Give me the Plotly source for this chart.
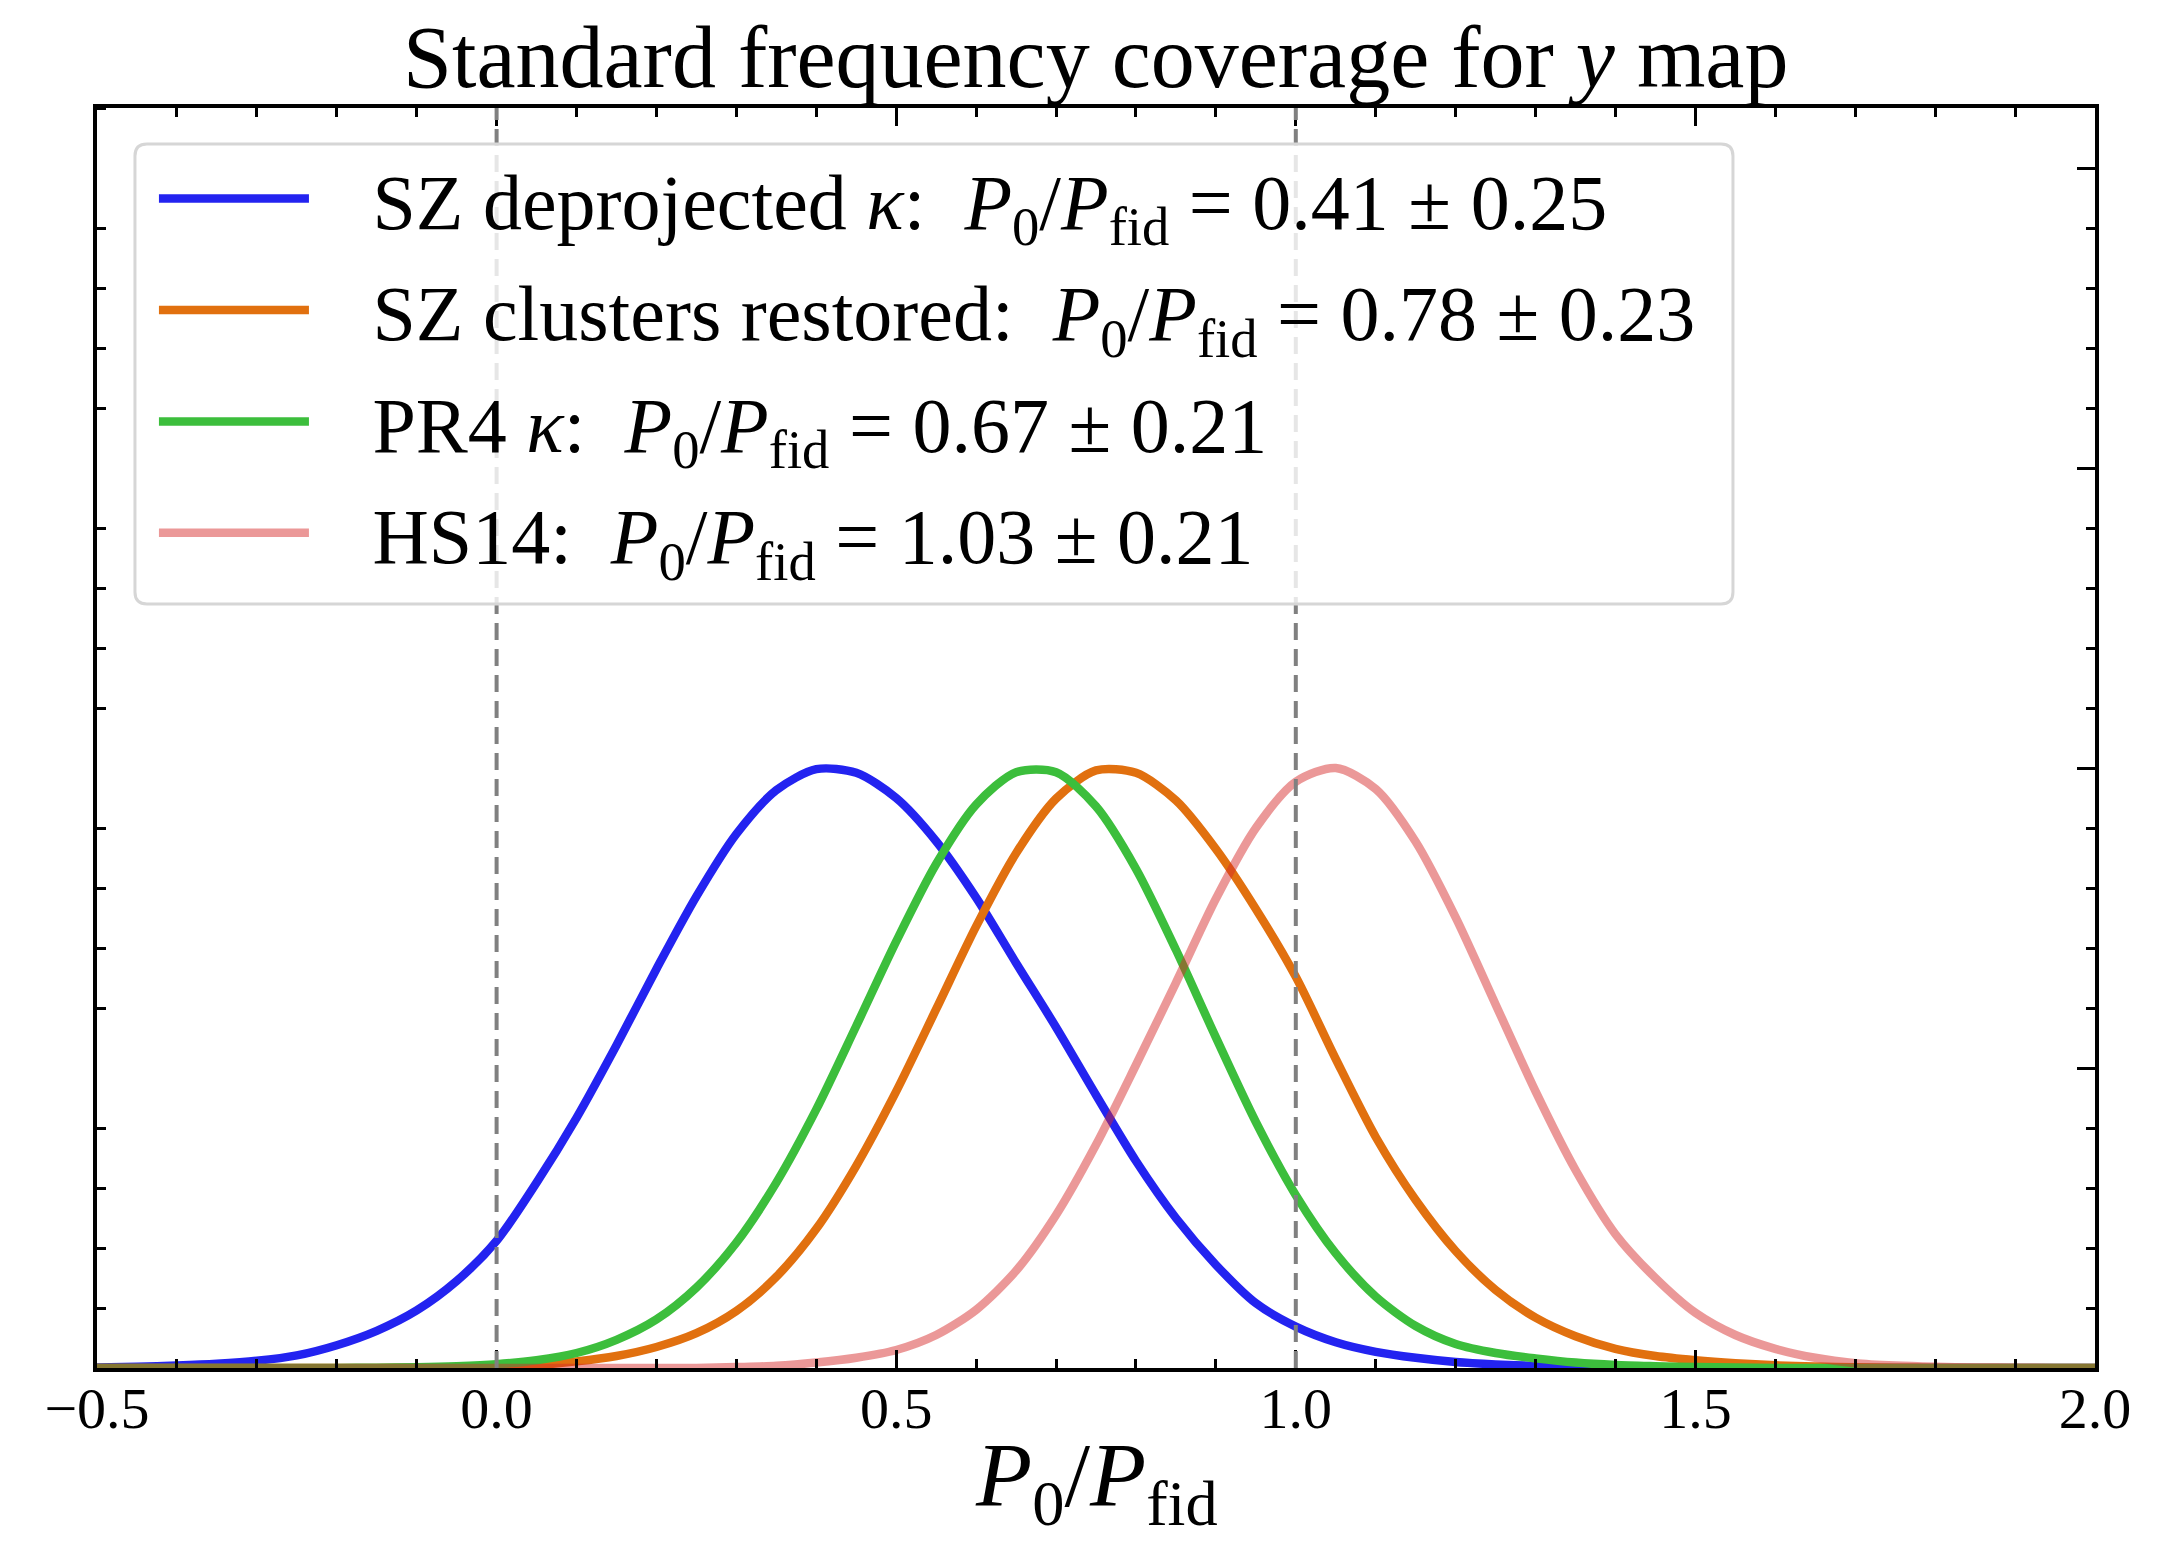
import plotly.graph_objects as go

# ---------------- data ----------------
x_vals = [-0.5, -0.45, -0.4, -0.35, -0.3, -0.25, -0.2, -0.15, -0.1, -0.05,
          0.0, 0.05, 0.1, 0.15, 0.2, 0.25, 0.3, 0.35, 0.4, 0.45,
          0.5, 0.55, 0.6, 0.65, 0.7, 0.75, 0.8, 0.85, 0.9, 0.95,
          1.0, 1.05, 1.1, 1.15, 1.2, 1.25, 1.3, 1.35, 1.4, 1.45,
          1.5, 1.55, 1.6, 1.65, 1.7, 1.75, 1.8, 1.85, 1.9, 1.95, 2.0]

sz_deproj = [0.001, 0.002, 0.004, 0.007, 0.012, 0.021, 0.038, 0.062, 0.096, 0.145,
             0.212, 0.309, 0.417, 0.538, 0.665, 0.786, 0.89, 0.963, 0.998, 0.992,
             0.95, 0.878, 0.784, 0.675, 0.568, 0.455, 0.345, 0.250, 0.172, 0.108,
             0.069, 0.043, 0.027, 0.017, 0.010, 0.006, 0.0035, 0.002, 0.001, 0.0005,
             0.0, 0.0, 0.0, 0.0, 0.0, 0.0, 0.0, 0.0, 0.0, 0.0, 0.0]

sz_restored = [0.0, 0.0, 0.0, 0.0, 0.0, 0.0, 0.0, 0.0, 0.0005, 0.001,
               0.002, 0.005, 0.011, 0.02, 0.035, 0.058, 0.095, 0.152, 0.232, 0.337,
               0.461, 0.598, 0.736, 0.858, 0.949, 0.996, 0.992, 0.946, 0.865, 0.765,
               0.652, 0.515, 0.385, 0.280, 0.195, 0.13, 0.084, 0.053, 0.032, 0.02,
               0.013, 0.008, 0.0045, 0.0025, 0.0013, 0.0006, 0.0, 0.0, 0.0, 0.0, 0.0]

pr4 = [0.0, 0.0, 0.0, 0.0, 0.0, 0.0, 0.0002, 0.0006, 0.0013, 0.003,
       0.0063, 0.013, 0.025, 0.047, 0.081, 0.134, 0.209, 0.309, 0.431, 0.57,
       0.711, 0.84, 0.939, 0.993, 0.993, 0.936, 0.832, 0.697, 0.551, 0.41,
       0.288, 0.191, 0.119, 0.07, 0.04, 0.025, 0.016, 0.009, 0.005, 0.003,
       0.0015, 0.0007, 0.0, 0.0, 0.0, 0.0, 0.0, 0.0, 0.0, 0.0, 0.0]

hs14 = [0.0, 0.0, 0.0, 0.0, 0.0, 0.0, 0.0, 0.0, 0.0, 0.0,
        0.0, 0.0, 0.0, 0.0, 0.0, 0.0, 0.0015, 0.0036, 0.009, 0.017,
        0.030, 0.055, 0.097, 0.162, 0.255, 0.372, 0.505, 0.642, 0.782, 0.90,
        0.977, 1.0, 0.965, 0.877, 0.751, 0.606, 0.461, 0.33, 0.223, 0.15,
        0.092, 0.055, 0.032, 0.017, 0.008, 0.004, 0.002, 0.001, 0.0005, 0.0, 0.0]

ref_lines = [0.0, 1.0]

NB = "\u00a0"
PF = "<i>P</i><sub>0</sub>/<i>P</i><sub>fid</sub>"
series_names = [
    NB * 3 + "SZ deprojected <i>κ</i>:" + NB * 2 + PF + " = 0.41 ± 0.25",
    NB * 3 + "SZ clusters restored:" + NB * 2 + PF + " = 0.78 ± 0.23",
    NB * 3 + "PR4 <i>κ</i>:" + NB * 2 + PF + " = 0.67 ± 0.21",
    NB * 3 + "HS14:" + NB * 2 + PF + " = 1.03 ± 0.21",
]
series_values = [sz_deproj, sz_restored, pr4, hs14]
series_colors = ["#2323F0", "#E1700F", "#3CBE3C", "rgba(214,39,40,0.48)"]
series_axes = ["y", "y", "y", "y2"]

FONT = "Liberation Serif"

fig = go.Figure()
for i, (name, vals, col, ax) in enumerate(zip(series_names, series_values, series_colors, series_axes)):
    fig.add_trace(go.Scatter(
        x=x_vals, y=vals, mode="lines", name=name, yaxis=ax,
        line=dict(color=col, width=8.5, shape="spline", smoothing=0.8),
        legendgroup="g%d" % i,
    ))

for xv in ref_lines:
    fig.add_vline(x=xv, line=dict(color="#808080", width=4, dash="17px,9px"))

# rounded legend frame (matplotlib style), in paper coordinates
x0, x1, y0, y1 = 0.019, 0.8188, 0.6063, 0.9714
rx, ry = 0.006, 0.0095
path = (f"M{x0+rx},{y1} L{x1-rx},{y1} Q{x1},{y1} {x1},{y1-ry} "
        f"L{x1},{y0+ry} Q{x1},{y0} {x1-rx},{y0} L{x0+rx},{y0} "
        f"Q{x0},{y0} {x0},{y0+ry} L{x0},{y1-ry} Q{x0},{y1} {x0+rx},{y1} Z")
fig.add_shape(type="path", path=path, xref="paper", yref="paper",
              fillcolor="rgba(255,255,255,0.8)", line=dict(color="#d6d6d6", width=3),
              layer="above")

# x-axis title as an annotation below the axis
fig.add_annotation(text=PF, xref="paper", yref="paper", x=0.5, y=0,
                   xanchor="center", yanchor="middle", yshift=-113, showarrow=False,
                   font=dict(family=FONT, size=92, color="black"))

tick_minor = dict(dtick=0.1, ticks="inside", ticklen=9, tickwidth=3, tickcolor="black", showgrid=False)

fig.update_layout(
    width=2178, height=1542,
    margin=dict(l=97, r=83, t=108, b=174),
    plot_bgcolor="white", paper_bgcolor="white",
    font=dict(family=FONT, color="black"),
    title=dict(text="Standard frequency coverage for <i>y</i> map",
               font=dict(family=FONT, size=88, color="black"),
               x=0.5031, xanchor="center", xref="container", y=0.9635, yanchor="middle", yref="container"),
    showlegend=True,
    legend=dict(x=0.0285, y=0.9735, xanchor="left", yanchor="top",
                bgcolor="rgba(0,0,0,0)", borderwidth=0,
                font=dict(family=FONT, size=78, color="black"),
                itemwidth=150, tracegroupgap=7, traceorder="grouped"),
    xaxis=dict(range=[-0.5, 2.0], tick0=0, dtick=0.5, tickformat=".1f",
               ticks="inside", ticklen=18, tickwidth=3, tickcolor="black",
               minor=tick_minor, mirror="ticks", showline=True, linewidth=4, linecolor="black",
               showgrid=False, zeroline=False, automargin=False, ticklabelstandoff=-14,
               tickfont=dict(family=FONT, size=58, color="black")),
    yaxis=dict(range=[0, 2.1], dtick=0.5, ticks="", showticklabels=False,
               minor=tick_minor, showline=True, linewidth=4, linecolor="black",
               showgrid=False, zeroline=False, automargin=False),
    yaxis2=dict(range=[0, 2.1], dtick=0.5, overlaying="y", side="right",
                ticks="inside", ticklen=18, tickwidth=3, tickcolor="black",
                minor=tick_minor, showticklabels=False, showline=True, linewidth=4,
                linecolor="black", showgrid=False, zeroline=False, automargin=False),
)

fig.write_html("out.html")
